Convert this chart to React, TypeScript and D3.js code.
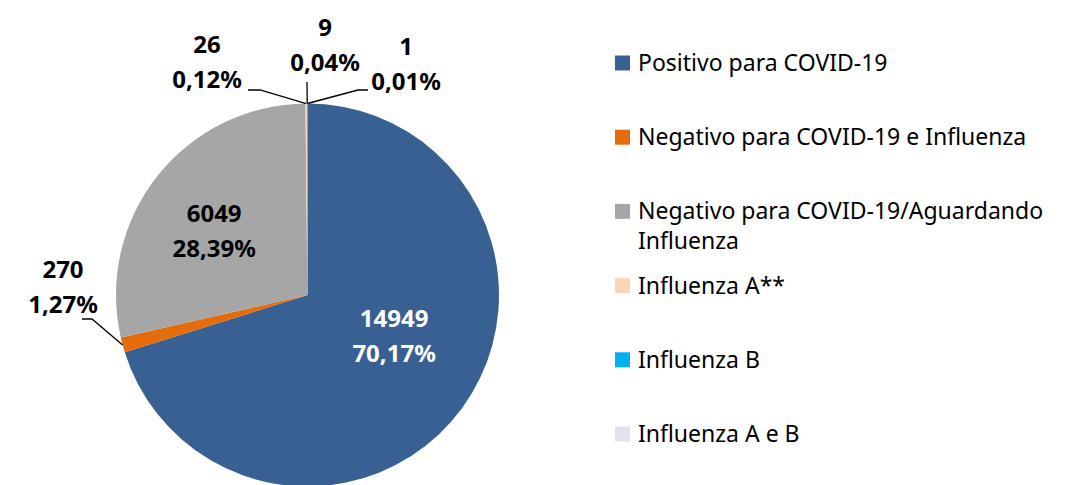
import React from "react";
import * as d3 from "d3";

// data
const categories = [
  "Positivo para COVID-19",
  "Negativo para COVID-19 e Influenza",
  "Negativo para COVID-19/Aguardando Influenza",
  "Influenza A**",
  "Influenza B",
  "Influenza A e B",
];
const counts = [14949, 270, 6049, 26, 9, 1];
const percentLabels = ["70,17%", "1,27%", "28,39%", "0,12%", "0,04%", "0,01%"];
const legendLines = [
  ["Positivo para COVID-19"],
  ["Negativo para COVID-19 e Influenza"],
  ["Negativo para COVID-19/Aguardando", "Influenza"],
  ["Influenza A**"],
  ["Influenza B"],
  ["Influenza A e B"],
];
const colors = ["#386092", "#E46C0A", "#A6A6A6", "#FCD5B5", "#00B0F0", "#E6E0EC"];

const width = 1068;
const height = 485;
const cx = 307.5;
const cy = 295;
const radius = 191.5;
const font = "'Noto Sans', 'Open Sans', sans-serif";

// label placement (layout only). inner labels: centroid radius + nudge,
// outer labels: text anchor + leader elbow
const innerLabels: Record<number, { r: number; dx: number; dy: number; fill: string }> = {
  0: { r: 100, dx: 6, dy: -27, fill: "#fff" },
  2: { r: 110, dx: -7, dy: -5, fill: "#000" },
};
const outerLabels: Record<number, { x: number; y: number; leader: [number, number][] }> = {
  1: { x: 63, y: 278, leader: [[82, 319], [92, 319]] },
  3: { x: 207, y: 53, leader: [[248, 90], [260, 90]] },
  4: { x: 325, y: 36, leader: [[307, 82]] },
  5: { x: 406, y: 55, leader: [[368, 90], [358, 90]] },
};

export default function App() {
  const total = d3.sum(counts);
  const pie = d3
    .pie<number>()
    .value((d) => d)
    .sort(null);
  const arcs = pie(counts);
  const arc = d3.arc<d3.PieArcDatum<number>>().innerRadius(0).outerRadius(radius);

  const legendY = d3
    .scaleLinear()
    .domain([0, categories.length - 1])
    .range([63, 434]);

  const lineGen = d3.line();

  return (
    <svg
      width={width}
      height={height}
      style={{ position: "absolute", left: 0, top: 0, background: "#fff" }}
      fontFamily={font}
    >
      <g transform={`translate(${cx},${cy})`}>
        {arcs.map((a, i) => (
          <path key={categories[i]} d={arc(a) || ""} fill={colors[i]} />
        ))}
      </g>

      {/* leader lines */}
      {arcs.map((a, i) => {
        const o = outerLabels[i];
        if (!o) return null;
        const mid = (a.startAngle + a.endAngle) / 2;
        const end: [number, number] = [cx + radius * Math.sin(mid), cy - radius * Math.cos(mid)];
        return (
          <path
            key={"l" + i}
            d={lineGen([...o.leader, end]) || ""}
            fill="none"
            stroke="#000"
            strokeWidth={1.3}
          />
        );
      })}

      {/* data labels */}
      {arcs.map((a, i) => {
        const inner = innerLabels[i];
        let x: number;
        let y: number;
        let fill = "#000";
        if (inner) {
          const c = d3.arc<d3.PieArcDatum<number>>().innerRadius(inner.r).outerRadius(inner.r).centroid(a);
          x = cx + c[0] + inner.dx;
          y = cy + c[1] + inner.dy;
          fill = inner.fill;
        } else {
          const o = outerLabels[i];
          x = o.x;
          y = o.y;
        }
        return (
          <text key={"t" + i} x={x} y={y} textAnchor="middle" fontWeight="bold" fontSize={24} fill={fill}>
            <tspan x={x}>{counts[i]}</tspan>
            <tspan x={x} dy={35}>
              {percentLabels[i] || d3.format(".2%")(counts[i] / total)}
            </tspan>
          </text>
        );
      })}

      {/* legend */}
      {categories.map((c, i) => (
        <g key={"lg" + c} transform={`translate(615,${legendY(i)})`}>
          <rect x={0} y={-7.5} width={15} height={15} fill={colors[i]} />
          <text x={23} y={8} fontSize={23} fill="#000">
            {legendLines[i].map((ln, j) => (
              <tspan key={j} x={23} dy={j === 0 ? 0 : 30}>
                {ln}
              </tspan>
            ))}
          </text>
        </g>
      ))}
    </svg>
  );
}
